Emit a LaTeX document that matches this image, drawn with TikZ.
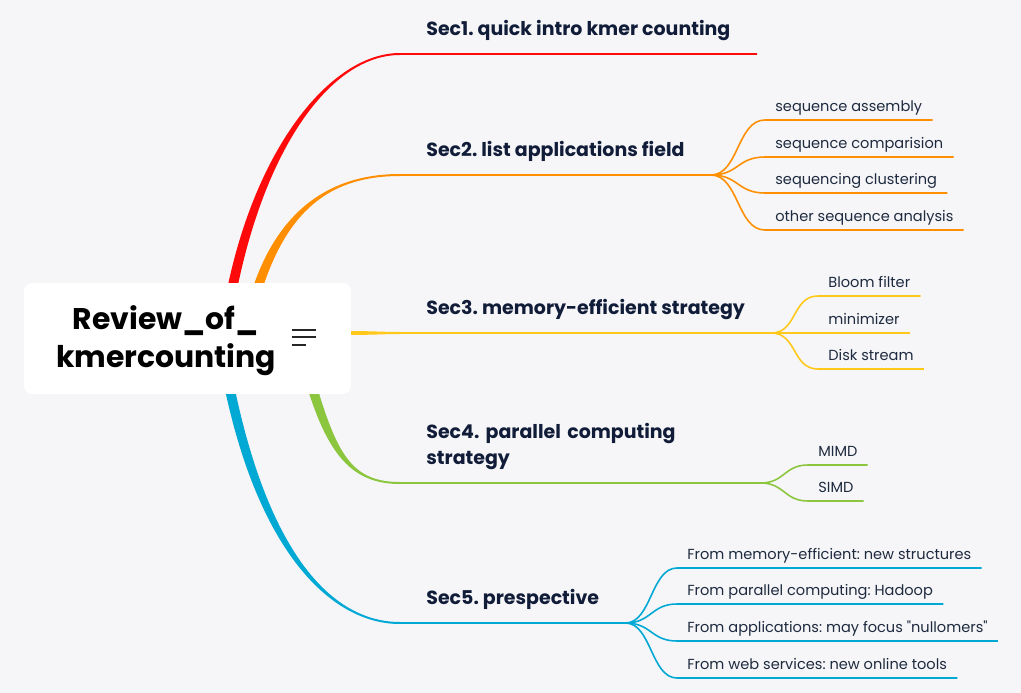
\documentclass[tikz,border=0pt]{standalone}
\usepackage{fontspec}
\setmainfont{Poppins}
\usetikzlibrary{positioning,calc}

\definecolor{bgc}{HTML}{F6F6F9}
\definecolor{titlec}{HTML}{101C38}
\definecolor{leafc}{HTML}{1E2A3E}
\definecolor{redc}{HTML}{FF0A0A}
\definecolor{orangec}{HTML}{FF8F00}
\definecolor{yellowc}{HTML}{FFC81A}
\definecolor{greenc}{HTML}{8CC63F}
\definecolor{bluec}{HTML}{00A8D4}

% straight double quote, past the tex-text mapping
\newcommand{\sq}{\XeTeXglyph\XeTeXcharglyph"22\relax}

% tapered main branch: colour, start, control 1, control 2, end, start offset, end offset
\newcommand{\mbranch}[7]{%
  \fill[#1] ($(#2)-(#6)$) .. controls ($(#3)-(#6)$) and ($(#4)-(#7)$) .. ($(#5)-(#7)$)
    -- ($(#5)+(#7)$) .. controls ($(#4)+(#7)$) and ($(#3)+(#6)$) .. ($(#2)+(#6)$) -- cycle;}

\begin{document}
\frenchspacing
\begin{tikzpicture}[x=0.02cm,y=-0.02cm,
    title/.style={anchor=south west, inner xsep=0.52cm, inner ysep=0pt, text depth=0.36cm,
      font=\fontsize{10.8}{14.7}\selectfont\bfseries, text=titlec},
    leaf/.style={anchor=south west, inner xsep=0.2cm, inner ysep=0pt, text depth=0.16cm,
      font=\fontsize{8.3}{10}\selectfont, text=leafc},
    uline/.style={line width=0.9pt, line cap=round},
    fork/.style={line width=0.9pt},
    rootbox/.style={fill=white, rounded corners=0.16cm, minimum width=6.54cm, minimum height=2.22cm, inner sep=0pt},
    roottext/.style={align=center, font=\fontsize{17}{21.5}\selectfont\bfseries, text=black},
    icon/.style={line width=1.1pt, draw=black!85}]

    % background
    \fill[bgc] (0,0) rectangle (1021,693);

    % section titles
    \node[title] (s1) at (400,54) {Sec1. quick intro kmer counting};
    \node[title] (s2) at (400,175) {Sec2. list applications field};
    \node[title] (s3) at (400,333) {Sec3. memory-efficient strategy};
    \node[title, text width=6.16cm, align=left, text depth=0.88cm] (s4) at (400,483) {Sec4. parallel computing\\strategy};
    \node[title] (s5) at (400,623) {Sec5. prespective};

    % branch starts, under the root box
    \coordinate (r1) at (230,300);
    \coordinate (r2) at (254,300);
    \coordinate (r3) at (348,333);
    \coordinate (r4) at (310,380);
    \coordinate (r5) at (228,380);

    % main branches
    \mbranch{redc}{r1}{258,150}{330,54}{s1.south west}{5,0}{0,1}
    \mbranch{orangec}{r2}{280,210}{330,175}{s2.south west}{5,0}{0,1}
    \mbranch{yellowc}{r3}{370,333}{385,333}{s3.south west}{0,2}{0,1}
    \mbranch{greenc}{r4}{332,455}{352,483}{s4.south west}{5,0}{0,-1}
    \mbranch{bluec}{r5}{262,550}{330,623}{s5.south west}{5,0}{0,-1}

    \draw[uline, redc] (s1.south west) -- (s1.south east);
    \draw[uline, orangec] (s2.south west) -- (s2.south east);
    \draw[uline, yellowc] (s3.south west) -- (s3.south east);
    \draw[uline, greenc] (s4.south west) -- (s4.south east);
    \draw[uline, bluec] (s5.south west) -- (s5.south east);

    % root
    \node[rootbox] (box) at (187.5,338.5) {};
    \node[roottext] (root) at (166,341) {Review\_of\_\\kmercounting};
    \draw[icon] ($(box.east)+(-59,-8.5)$) -- +(24,0);
    \draw[icon] ($(box.east)+(-59,-1.5)$) -- +(24,0);
    \draw[icon] ($(box.east)+(-59,6.5)$) -- +(14,0);

    % Sec2 leaves
    \node[leaf] (a1) at (765,120) {sequence assembly};
    \node[leaf] (a2) at (765,157) {sequence comparision};
    \node[leaf] (a3) at (765,193) {sequencing clustering};
    \node[leaf] (a4) at (765,230) {other sequence analysis};
    \begin{scope}[orangec]
        \draw[fork] (s2.south east) .. controls +(28,0) and +(-28,0) .. (a1.south west) -- (a1.south east);
        \draw[fork] (s2.south east) .. controls +(28,0) and +(-28,0) .. (a2.south west) -- (a2.south east);
        \draw[fork] (s2.south east) .. controls +(28,0) and +(-28,0) .. (a3.south west) -- (a3.south east);
        \draw[fork] (s2.south east) .. controls +(28,0) and +(-28,0) .. (a4.south west) -- (a4.south east);
    \end{scope}

    % Sec3 leaves
    \node[leaf] (b1) at (818,296) {Bloom filter};
    \node[leaf] (b2) at (818,333) {minimizer};
    \node[leaf] (b3) at (818,369) {Disk stream};
    \begin{scope}[yellowc]
        \draw[fork] (s3.south east) .. controls +(26,0) and +(-26,0) .. (b1.south west) -- (b1.south east);
        \draw[fork] (s3.south east) -- (b2.south west) -- (b2.south east);
        \draw[fork] (s3.south east) .. controls +(26,0) and +(-26,0) .. (b3.south west) -- (b3.south east);
    \end{scope}

    % Sec4 leaves
    \node[leaf] (c1) at (808,465) {MIMD};
    \node[leaf] (c2) at (808,501) {SIMD};
    \begin{scope}[greenc]
        \draw[fork] (s4.south east) .. controls +(24,0) and +(-24,0) .. (c1.south west) -- (c1.south east);
        \draw[fork] (s4.south east) .. controls +(24,0) and +(-24,0) .. (c2.south west) -- (c2.south east);
    \end{scope}

    % Sec5 leaves
    \node[leaf] (d1) at (677,568) {From memory-efficient: new structures};
    \node[leaf] (d2) at (677,604) {From parallel computing: Hadoop};
    \node[leaf] (d3) at (677,641) {From applications: may focus \sq nullomers\sq};
    \node[leaf] (d4) at (677,678) {From web services: new online tools};
    \begin{scope}[bluec]
        \draw[fork] (s5.south east) .. controls +(26,0) and +(-26,0) .. (d1.south west) -- (d1.south east);
        \draw[fork] (s5.south east) .. controls +(26,0) and +(-26,0) .. (d2.south west) -- (d2.south east);
        \draw[fork] (s5.south east) .. controls +(26,0) and +(-26,0) .. (d3.south west) -- (d3.south east);
        \draw[fork] (s5.south east) .. controls +(26,0) and +(-26,0) .. (d4.south west) -- (d4.south east);
    \end{scope}
\end{tikzpicture}
\end{document}
